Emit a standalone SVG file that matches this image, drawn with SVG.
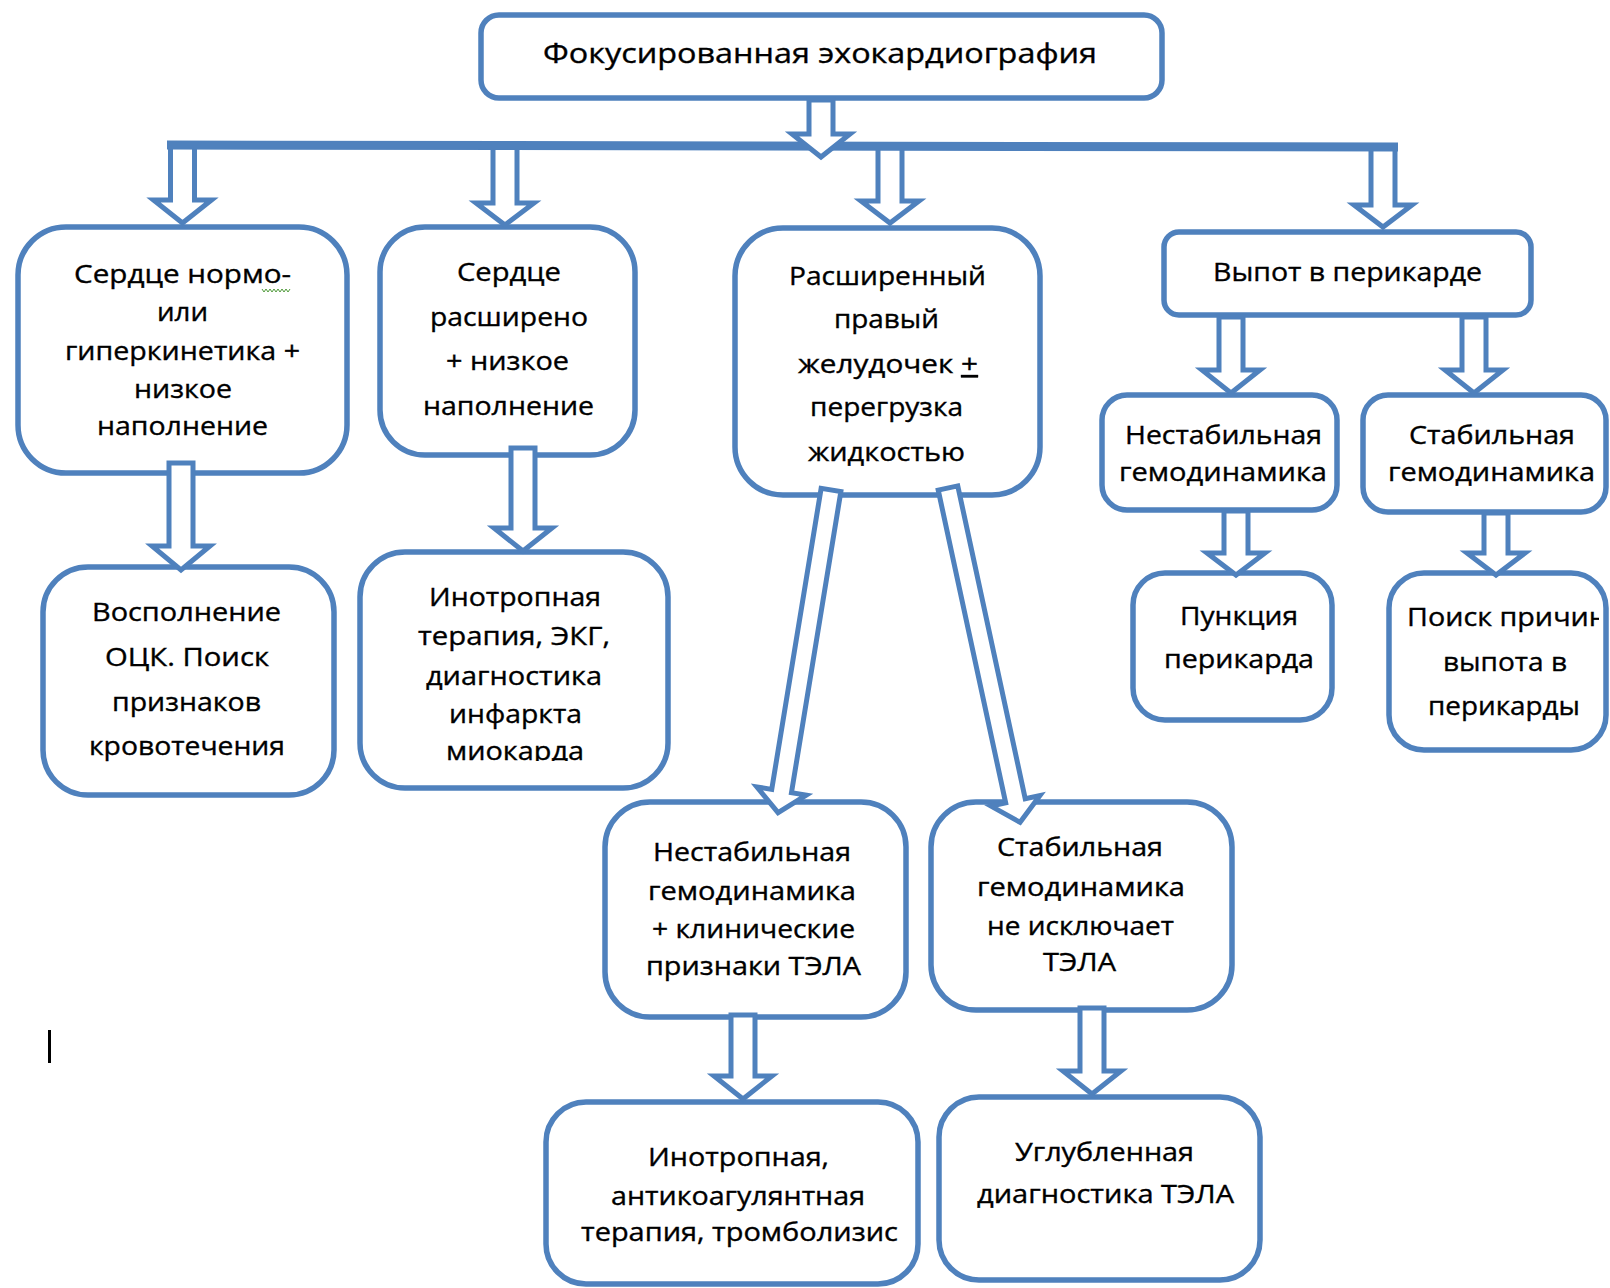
<svg xmlns="http://www.w3.org/2000/svg" width="1610" height="1288" viewBox="0 0 1610 1288">
<style>
.box{fill:#fff;stroke:#4f81bd;stroke-width:5.5}
.arr{fill:#fff;stroke:#4f81bd;stroke-width:5;stroke-linejoin:miter}
.bar{fill:none;stroke:#4f81bd;stroke-width:9}
text{font-family:"Open Sans","Noto Sans","DejaVu Sans",sans-serif;font-size:25px;fill:#000;stroke:#000;stroke-width:0.35;text-anchor:middle}
.t{font-size:28px}
</style>
<defs>
<clipPath id="clipB1"><rect x="360" y="552" width="308" height="209"/></clipPath>
<clipPath id="clipD2a"><rect x="1389" y="573" width="210" height="177"/></clipPath>
</defs>
<rect width="1610" height="1288" fill="#fff"/>

<g id="node-top"><rect class="box" x="481" y="15" width="681" height="83" rx="18"/>
<text class="t" x="820" y="63" textLength="554" lengthAdjust="spacingAndGlyphs">Фокусированная эхокардиография</text></g>

<g id="node-a"><rect class="box" x="18" y="227" width="329" height="246" rx="48"/>
<text x="182.5" y="283" textLength="217" lengthAdjust="spacingAndGlyphs">Сердце нормо-</text>
<text x="182.5" y="321" textLength="51" lengthAdjust="spacingAndGlyphs">или</text>
<text x="182.5" y="360" textLength="235" lengthAdjust="spacingAndGlyphs">гиперкинетика +</text>
<text x="183" y="398" textLength="98" lengthAdjust="spacingAndGlyphs">низкое</text>
<text x="182.5" y="435" textLength="171" lengthAdjust="spacingAndGlyphs">наполнение</text>
<polyline points="262,289 264,292 266,289 268,292 270,289 272,292 274,289 276,292 278,289 280,292 282,289 284,292 286,289 288,292 290,289" fill="none" stroke="#4f9a3a" stroke-width="1"/></g>

<g id="node-b"><rect class="box" x="380" y="227" width="255" height="228" rx="45"/>
<text x="509" y="281" textLength="104" lengthAdjust="spacingAndGlyphs">Сердце</text>
<text x="509" y="326" textLength="158" lengthAdjust="spacingAndGlyphs">расширено</text>
<text x="507.5" y="370" textLength="123" lengthAdjust="spacingAndGlyphs">+ низкое</text>
<text x="508.5" y="415" textLength="171" lengthAdjust="spacingAndGlyphs">наполнение</text></g>

<g id="node-c"><rect class="box" x="735" y="228" width="305" height="267" rx="48"/>
<text x="887.5" y="285" textLength="197" lengthAdjust="spacingAndGlyphs">Расширенный</text>
<text x="886.5" y="328" textLength="105" lengthAdjust="spacingAndGlyphs">правый</text>
<text x="888" y="373" textLength="180" lengthAdjust="spacingAndGlyphs">желудочек <tspan style="text-decoration:underline">+</tspan></text>
<text x="886.5" y="416" textLength="153" lengthAdjust="spacingAndGlyphs">перегрузка</text>
<text x="886.5" y="461" textLength="157" lengthAdjust="spacingAndGlyphs">жидкостью</text></g>

<g id="node-d"><rect class="box" x="1164" y="232" width="367" height="83" rx="15"/>
<text x="1347.5" y="281" textLength="269" lengthAdjust="spacingAndGlyphs">Выпот в перикарде</text></g>

<g id="node-d1"><rect class="box" x="1102" y="395" width="235" height="115" rx="25"/>
<text x="1223.5" y="444" textLength="197" lengthAdjust="spacingAndGlyphs">Нестабильная</text>
<text x="1223" y="481" textLength="208" lengthAdjust="spacingAndGlyphs">гемодинамика</text></g>

<g id="node-d2"><rect class="box" x="1363" y="395" width="243" height="117" rx="25"/>
<text x="1492" y="444" textLength="166" lengthAdjust="spacingAndGlyphs">Стабильная</text>
<text x="1491.5" y="481" textLength="207" lengthAdjust="spacingAndGlyphs">гемодинамика</text></g>

<g id="node-d1a"><rect class="box" x="1133" y="573" width="199" height="147" rx="32"/>
<text x="1239" y="625" textLength="118" lengthAdjust="spacingAndGlyphs">Пункция</text>
<text x="1239" y="668" textLength="150" lengthAdjust="spacingAndGlyphs">перикарда</text></g>

<g id="node-d2a"><rect class="box" x="1389" y="573" width="217" height="177" rx="35"/>
<text x="1407" y="626" textLength="200" lengthAdjust="spacingAndGlyphs" style="text-anchor:start" clip-path="url(#clipD2a)">Поиск причин</text>
<text x="1505" y="671" textLength="124" lengthAdjust="spacingAndGlyphs">выпота в</text>
<text x="1504" y="715" textLength="152" lengthAdjust="spacingAndGlyphs">перикарды</text></g>

<g id="node-a1"><rect class="box" x="43" y="567" width="291" height="228" rx="45"/>
<text x="186.5" y="621" textLength="189" lengthAdjust="spacingAndGlyphs">Восполнение</text>
<text x="187" y="666" textLength="164" lengthAdjust="spacingAndGlyphs">ОЦК. Поиск</text>
<text x="186.5" y="711" textLength="149" lengthAdjust="spacingAndGlyphs">признаков</text>
<text x="187" y="755" textLength="196" lengthAdjust="spacingAndGlyphs">кровотечения</text></g>

<g id="node-b1"><rect class="box" x="360" y="552" width="308" height="236" rx="45"/>
<text x="515" y="606" textLength="172" lengthAdjust="spacingAndGlyphs">Инотропная</text>
<text x="514" y="645" textLength="192" lengthAdjust="spacingAndGlyphs">терапия, ЭКГ,</text>
<text x="514" y="685" textLength="176" lengthAdjust="spacingAndGlyphs">диагностика</text>
<text x="515.5" y="723" textLength="133" lengthAdjust="spacingAndGlyphs">инфаркта</text>
<text x="515" y="760" textLength="138" lengthAdjust="spacingAndGlyphs" clip-path="url(#clipB1)">миокарда</text></g>

<g id="node-c1"><rect class="box" x="605" y="802" width="301" height="215" rx="45"/>
<text x="752" y="861" textLength="198" lengthAdjust="spacingAndGlyphs">Нестабильная</text>
<text x="752" y="900" textLength="208" lengthAdjust="spacingAndGlyphs">гемодинамика</text>
<text x="753.5" y="938" textLength="203" lengthAdjust="spacingAndGlyphs">+ клинические</text>
<text x="753.5" y="975" textLength="215" lengthAdjust="spacingAndGlyphs">признаки ТЭЛА</text></g>

<g id="node-c2"><rect class="box" x="931" y="802" width="301" height="208" rx="45"/>
<text x="1080" y="856" textLength="166" lengthAdjust="spacingAndGlyphs">Стабильная</text>
<text x="1081" y="896" textLength="208" lengthAdjust="spacingAndGlyphs">гемодинамика</text>
<text x="1080.5" y="935" textLength="187" lengthAdjust="spacingAndGlyphs">не исключает</text>
<text x="1079.5" y="971" textLength="73" lengthAdjust="spacingAndGlyphs">ТЭЛА</text></g>

<g id="node-c1a"><rect class="box" x="546" y="1102" width="372" height="182" rx="40"/>
<text x="738.5" y="1166" textLength="181" lengthAdjust="spacingAndGlyphs">Инотропная,</text>
<text x="738" y="1205" textLength="254" lengthAdjust="spacingAndGlyphs">антикоагулянтная</text>
<text x="739.5" y="1241" textLength="317" lengthAdjust="spacingAndGlyphs">терапия, тромболизис</text></g>

<g id="node-c2a"><rect class="box" x="939" y="1097" width="321" height="183" rx="40"/>
<text x="1104.5" y="1161" textLength="179" lengthAdjust="spacingAndGlyphs">Углубленная</text>
<text x="1105.5" y="1203" textLength="257" lengthAdjust="spacingAndGlyphs">диагностика ТЭЛА</text></g>

<g id="connectors">
<path class="arr" d="M170.5,145 V200 H153.5 L182.5,223 L211.5,200 H194.5 V145 Z"/>
<path class="arr" d="M493,145 V203 H476 L505,225 L534,203 H517 V145 Z"/>
<path class="arr" d="M878,145 V201 H861 L890,223 L919,201 H902 V145 Z"/>
<path class="arr" d="M1371,147 V205 H1354 L1383,227 L1412,205 H1395 V147 Z"/>
<path class="bar" d="M167,145 L1398,147"/>
<path class="arr" d="M809,100 V134 H792 L821,157 L850,134 H833 V100 Z"/>
<path class="arr" d="M169,463 V546 H152 L181,570 L210,546 H193 V463 Z"/>
<path class="arr" d="M511,448 V528 H494 L523,551 L552,528 H535 V448 Z"/>
<path class="arr" d="M1219,317 V370 H1202 L1231,393 L1260,370 H1243 V317 Z"/>
<path class="arr" d="M1462,317 V370 H1445 L1474,393 L1503,370 H1486 V317 Z"/>
<path class="arr" d="M1224,511 V553 H1207 L1236,575 L1265,553 H1248 V511 Z"/>
<path class="arr" d="M1484,513 V553 H1467 L1496,575 L1525,553 H1508 V513 Z"/>
<path class="arr" d="M731,1015 V1076 H714 L743,1099 L772,1076 H755 V1015 Z"/>
<path class="arr" d="M1080,1008 V1071 H1063 L1092,1094 L1121,1071 H1104 V1008 Z"/>
<path class="arr" transform="translate(831,490) rotate(9.32)" d="M-10,0 V305 H-25 L0,327 L25,305 H10 V0 Z"/>
<path class="arr" transform="translate(948,488) rotate(-12.17)" d="M-10,0 V320 H-25 L0,342 L25,320 H10 V0 Z"/>
</g>

<line x1="49.5" y1="1030" x2="49.5" y2="1063" stroke="#000" stroke-width="3"/>
</svg>
